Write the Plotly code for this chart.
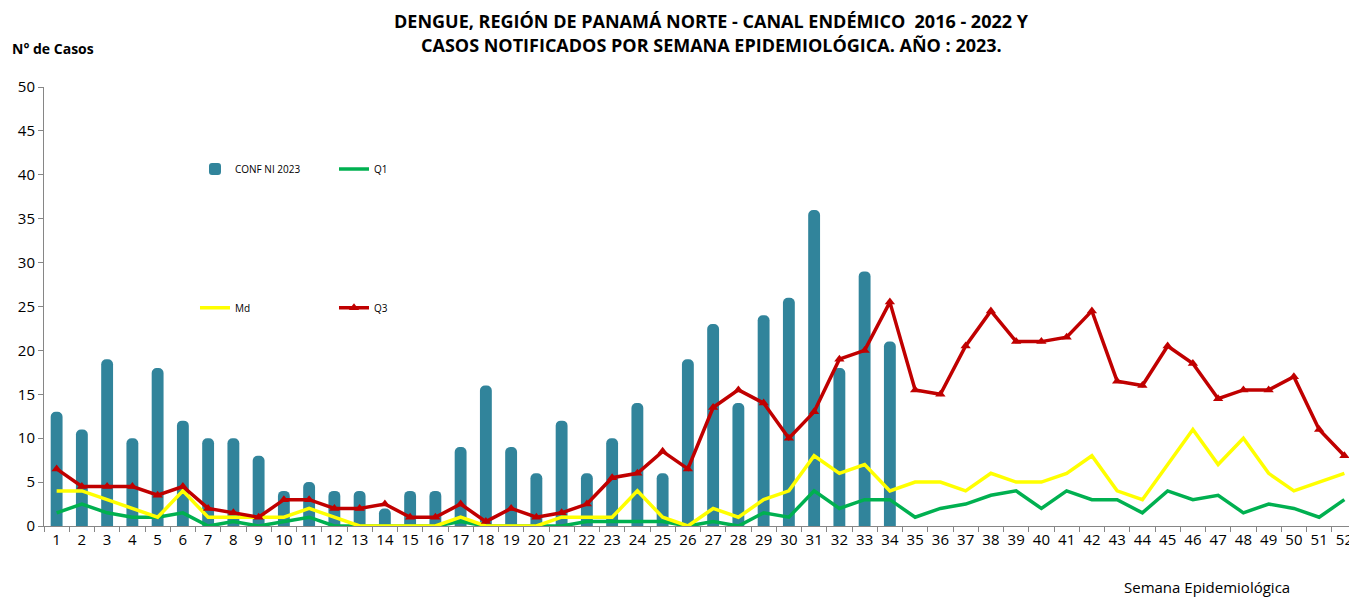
import plotly.graph_objects as go

weeks = [str(i) for i in range(1, 53)]
conf_2023 = [13, 11, 19, 10, 18, 12, 10, 10, 8, 4, 5, 4, 4, 2, 4, 4, 9, 16, 9, 6,
             12, 6, 10, 14, 6, 19, 23, 14, 24, 26, 36, 18, 29, 21]
q1 = [1.5, 2.5, 1.5, 1, 1, 1.5, 0, 0.5, 0, 0.5, 1, 0, 0, 0, 0, 0, 0.5, 0, 0, 0,
      0, 0.5, 0.5, 0.5, 0.5, 0, 0.5, 0, 1.5, 1, 4, 2, 3, 3, 1, 2, 2.5, 3.5, 4, 2,
      4, 3, 3, 1.5, 4, 3, 3.5, 1.5, 2.5, 2, 1, 3]
md = [4, 4, 3, 2, 1, 4, 1, 1, 1, 1, 2, 1, 0, 0, 0, 0, 1, 0, 0, 0,
      1, 1, 1, 4, 1, 0, 2, 1, 3, 4, 8, 6, 7, 4, 5, 5, 4, 6, 5, 5,
      6, 8, 4, 3, 7, 11, 7, 10, 6, 4, 5, 6]
q3 = [6.5, 4.5, 4.5, 4.5, 3.5, 4.5, 2, 1.5, 1, 3, 3, 2, 2, 2.5, 1, 1, 2.5, 0.5, 2, 1,
      1.5, 2.5, 5.5, 6, 8.5, 6.5, 13.5, 15.5, 14, 10, 13, 19, 20, 25.5, 15.5, 15, 20.5, 24.5, 21, 21,
      21.5, 24.5, 16.5, 16, 20.5, 18.5, 14.5, 15.5, 15.5, 17, 11, 8]
y_ticks = [0, 5, 10, 15, 20, 25, 30, 35, 40, 45, 50]
title_lines = ["DENGUE, REGIÓN DE PANAMÁ NORTE - CANAL ENDÉMICO  2016 - 2022 Y",
               "CASOS NOTIFICADOS POR SEMANA EPIDEMIOLÓGICA. AÑO : 2023."]

FONT = "'Open Sans', 'Liberation Sans', sans-serif"

fig = go.Figure()
fig.add_trace(go.Bar(x=weeks[:len(conf_2023)], y=conf_2023, name="CONF NI 2023",
                     marker=dict(color="#31849B", line=dict(width=0)), width=0.47,
                     legend="legend"))
fig.add_trace(go.Scatter(x=weeks, y=q1, name="Q1", mode="lines",
                         line=dict(color="#00B050", width=3.5), legend="legend"))
fig.add_trace(go.Scatter(x=weeks, y=md, name="Md", mode="lines",
                         line=dict(color="#FFFF00", width=3.5), legend="legend2"))
fig.add_trace(go.Scatter(x=weeks, y=q3, name="Q3", mode="lines+markers",
                         line=dict(color="#C00000", width=3.5),
                         marker=dict(symbol="triangle-up", size=9, color="#C00000"),
                         legend="legend2"))

annotations = [
    dict(text="<b>" + title_lines[0] + "</b>", xref="paper", yref="paper", x=0.5085, y=1.150,
         xanchor="center", yanchor="middle", showarrow=False, borderpad=0,
         font=dict(size=18, family=FONT)),
    dict(text="<b>" + title_lines[1] + "</b>", xref="paper", yref="paper", x=0.5085, y=1.0957,
         xanchor="center", yanchor="middle", showarrow=False, borderpad=0,
         font=dict(size=18, family=FONT)),
    dict(text="<b>N° de Casos</b>", xref="paper", yref="paper", x=-0.026, y=1.087,
         xanchor="left", yanchor="middle", showarrow=False,
         font=dict(size=14, family=FONT)),
    dict(text="Semana Epidemiológica", xref="paper", yref="paper", x=0.821, y=-0.14,
         xanchor="left", yanchor="middle", showarrow=False,
         font=dict(size=15, family=FONT)),
]

fig.update_layout(
    width=1349, height=592,
    paper_bgcolor="white", plot_bgcolor="white",
    margin=dict(l=36, r=0, t=79, b=74, autoexpand=False),
    barcornerradius=5,
    font=dict(family=FONT, color="#000000"),
    legend=dict(orientation="h", x=0.115, y=0.813, xanchor="left", yanchor="middle",
                entrywidth=94, entrywidthmode="pixels", itemwidth=30,
                font=dict(size=10, family=FONT), bgcolor="rgba(0,0,0,0)"),
    legend2=dict(orientation="h", x=0.115, y=0.497, xanchor="left", yanchor="middle",
                 entrywidth=94, entrywidthmode="pixels", itemwidth=30,
                 font=dict(size=10, family=FONT), bgcolor="rgba(0,0,0,0)"),
    xaxis=dict(type="category", categoryorder="array", categoryarray=weeks,
               range=[-0.5, 51.5], showline=True, linecolor="#868686", linewidth=1,
               ticks="outside", tickson="boundaries", ticklen=5, tickcolor="#868686",
               tickangle=0, automargin=False,
               tickfont=dict(size=15, family=FONT), showgrid=False, zeroline=False),
    yaxis=dict(range=[0, 50], tickvals=y_ticks, showline=True, linecolor="#868686",
               linewidth=1, ticks="outside", ticklen=5, tickcolor="#868686",
               automargin=False,
               tickfont=dict(size=15, family=FONT), showgrid=False, zeroline=False),
    annotations=annotations,
)

fig.write_html("out.html")
